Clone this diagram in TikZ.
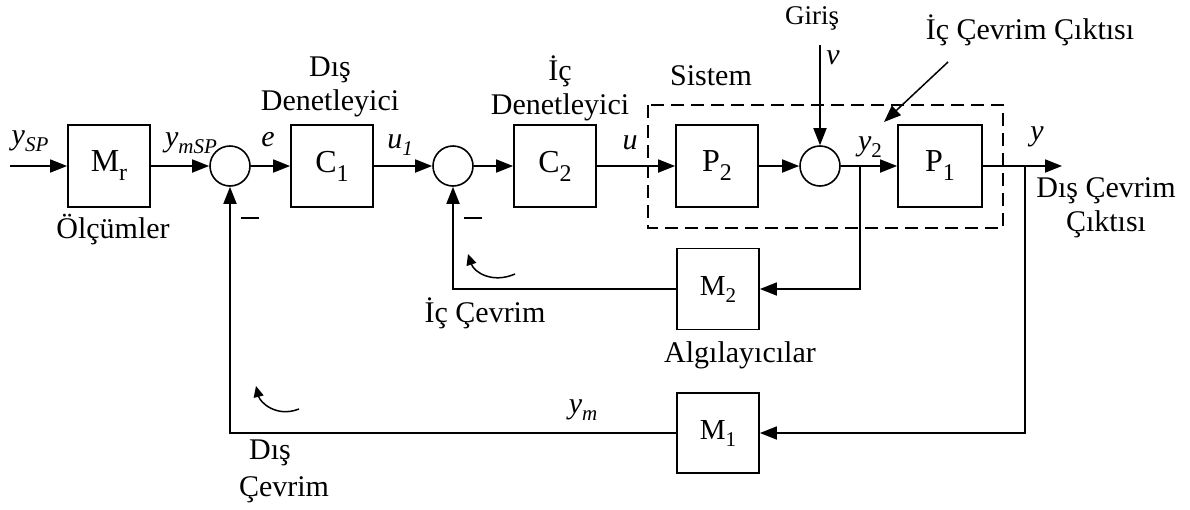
\documentclass[tikz,border=0pt]{standalone}
\usepackage{fontspec}
\setmainfont{Liberation Serif}
\usetikzlibrary{arrows.meta}
\newcommand{\lsub}[1]{\raisebox{-7pt}{\fontsize{21}{21}\selectfont #1}}
\newcommand{\bsub}[1]{\raisebox{-9pt}{\fontsize{24}{24}\selectfont #1}}
\begin{document}
\begin{tikzpicture}[x=1pt,y=-1pt,line width=1.8pt,
  every node/.style={font=\fontsize{30}{34}\selectfont,inner sep=0pt},
  blk/.style={draw,rectangle,minimum width=82pt,minimum height=82pt,font=\fontsize{32}{34}\selectfont},
  sumc/.style={draw,circle,minimum size=40pt,line width=1.6pt},
  sig/.style={-{Triangle[length=17pt,width=13pt]}},
  curv/.style={line width=1.5pt,-{Triangle[length=11pt,width=10pt]}},
  lbl/.style={align=center}]
\useasboundingbox (0,0) rectangle (1190,509);
% blocks
\node[blk] (Mr) at (109,166) {M\bsub{r}};
\node[blk] (C1) at (332,166) {C\bsub{1}};
\node[blk] (C2) at (555,166) {C\bsub{2}};
\node[blk] (P2) at (717,166) {P\bsub{2}};
\node[blk,minimum width=84pt] (P1) at (940,166) {P\bsub{1}};
\node[blk,minimum height=81pt,font=\fontsize{29}{34}\selectfont] (M2) at (718,289) {M\lsub{2}};
\node[blk,minimum height=80pt,font=\fontsize{29}{34}\selectfont] (M1) at (718,433) {M\lsub{1}};
% summing junctions
\node[sumc] (s1) at (230,166) {};
\node[sumc] (s2) at (453,166) {};
\node[sumc] (s3) at (820,166) {};
% system box
\draw[dashed,dash pattern=on 13pt off 7pt] (648,105) rectangle (1003,228);
% coordinates
\coordinate (in) at (10,166);
\coordinate (out) at (1062,166);
\coordinate (b2) at (860,166);
\coordinate (b1) at (1025,166);
\coordinate (vtop) at (820,45);
\coordinate (a1) at (948,62);
\coordinate (a2) at (884,122);
% forward path
\draw[sig] (in) -- (Mr);
\draw[sig] (Mr) -- (s1);
\draw[sig] (s1) -- (C1);
\draw[sig] (C1) -- (s2);
\draw[sig] (s2) -- (C2);
\draw[sig] (C2) -- (P2);
\draw[sig] (P2) -- (s3);
\draw[sig] (s3) -- (P1);
\draw[sig] (P1) -- (out);
\draw[sig] (vtop) -- (s3.north);
\draw[sig,line width=1.5pt] (a1) -- (a2);
% feedback
\draw[sig] (b2) |- (M2.east);
\draw[sig] (M2.west) -| (s2.south);
\draw[sig] (b1) |- (M1.east);
\draw[sig] (M1.west) -| (s1.south);
% curved loop arrows
\draw[curv] (515,274) .. controls (492,284) and (474,272) .. (468,254);
\draw[curv] (299,409) .. controls (276,418) and (260,402) .. (256,386);
% minus signs
\node (m1) at (250,218) {\rule{18pt}{1.8pt}};
\node (m2) at (473,218) {\rule{18pt}{1.8pt}};
% signal labels
\node (lySP) at (30,141) {\textit{y}\lsub{\textit{SP}}};
\node (lymSP) at (191,143) {\textit{y}\lsub{\textit{mSP}}};
\node (le) at (268,140) {\textit{e}};
\node (lu1) at (400,145) {\textit{u}\lsub{\textit{1}}};
\node (lu) at (630,143) {\textit{u}};
\node (lv) at (833,58) {\textit{v}};
\node (ly2) at (870,147) {\textit{y}\lsub{2}};
\node (ly) at (1037,137) {\textit{y}};
\node (lym) at (583,410) {\textit{y}\lsub{\textit{m}}};
% text labels
\node[lbl] (tDD) at (330,87) {Dış\\Denetleyici};
\node[lbl] (tID) at (560,88) {İç\\Denetleyici};
\node (tSis) at (711,76) {Sistem};
\node[font=\fontsize{27}{30}\selectfont] (tGir) at (812,18) {Giriş};
\node (tICC) at (1030,30) {İç Çevrim Çıktısı};
\node[lbl] (tDCC) at (1106,208) {Dış Çevrim\\Çıktısı};
\node (tOlc) at (113,230) {Ölçümler};
\node (tIC) at (485,313) {İç Çevrim};
\node (tAlg) at (740,355) {Algılayıcılar};
\node (tDis) at (270,453) {Dış};
\node (tCev) at (284,490) {Çevrim};
\end{tikzpicture}
\end{document}
